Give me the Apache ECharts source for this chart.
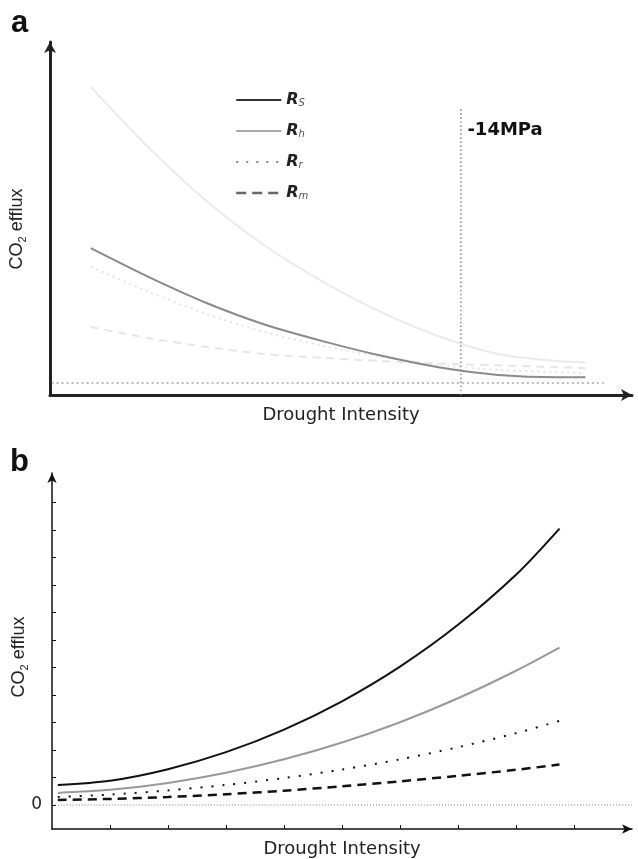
<!DOCTYPE html>
<html>
<head>
<meta charset="utf-8">
<script src="https://cdn.jsdelivr.net/npm/echarts@6/dist/echarts.min.js"></script>
<style>html,body{margin:0;padding:0;background:#fff}#c{width:638px;height:859px}</style>
</head>
<body>
<div id="c"></div>
<script>
// ---- Panel a data (drought intensity, arbitrary units 0-100) ----
const aX  = [7, 17, 27, 37, 47, 57, 67, 77, 87, 92];
const aRs = [87.3, 70.0, 54.8, 42.2, 32.0, 23.4, 16.5, 11.6, 9.6, 9.3];
const aRh = [41.6, 33.4, 26.0, 19.9, 15.2, 11.1, 7.8, 5.7, 5.0, 5.0];
const aRr = [36.3, 29.2, 22.9, 17.8, 13.9, 10.8, 8.5, 7.1, 6.5, 6.2];
const aRm = [19.3, 16.1, 13.6, 11.6, 10.5, 9.6, 8.9, 8.4, 7.9, 7.6];
const aBaseX = [0.3, 95.4];
const aBaseY = [3.4, 3.4];
const aMarkX = [70.6, 70.6];
const aMarkY = [0, 81.3];
const aMarkLabel = '-14MPa';

// ---- Panel b data ----
const bX  = [0.1, 1, 2, 3, 4, 5, 6, 7, 8, 8.75];
const bRs = [0.73, 0.88, 1.30, 1.92, 2.74, 3.77, 5.03, 6.55, 8.37, 10.05];
const bRh = [0.44, 0.55, 0.80, 1.17, 1.66, 2.27, 3.01, 3.88, 4.88, 5.72];
const bRr = [0.29, 0.38, 0.53, 0.73, 0.98, 1.29, 1.66, 2.10, 2.61, 3.06];
const bRm = [0.18, 0.22, 0.29, 0.39, 0.52, 0.68, 0.86, 1.06, 1.28, 1.47];
const bZeroX = [0.05, 10.0];
const bZeroY = [0, 0];
const bYTicks = [0, 1, 2, 3, 4, 5, 6, 7, 8, 9, 10, 11];
const bXTicks = [1, 2, 3, 4, 5, 6, 7, 8, 9];
const bYLabels = [0];

const legendNames = ['Rs', 'Rh', 'Rr', 'Rm'];
const legendSubs  = ['S', 'h', 'r', 'm'];
const xName = 'Drought Intensity';
const yName = 'CO{s|2} efflux';

function zip(xs, ys) { return xs.map((x, i) => [x, ys[i]]); }

const chart = echarts.init(document.getElementById('c'), null, {renderer: 'canvas'});

const yNameStyle = (padRight) => ({
  fontFamily: 'Liberation Sans', fontSize: 18, color: '#222', lineHeight: 22,
  padding: [0, padRight, 0, 0],
  rich: { s: { fontFamily: 'Liberation Sans', fontSize: 11, color: '#222', lineHeight: 22, verticalAlign: 'bottom', padding: [8, 0, 0, 0] } }
});
const xNameStyle = { fontFamily: 'DejaVu Sans', fontSize: 18, color: '#222' };

function lineSeries(name, xi, data, color, width, type) {
  return {
    name: name, type: 'line', xAxisIndex: xi, yAxisIndex: xi,
    data: data, smooth: 0.3, symbol: 'none', silent: true,
    itemStyle: { color: color },
    lineStyle: { color: color, width: width, type: type || 'solid' }
  };
}

const legendStyles = {
  Rs: { color: '#333', width: 2, type: 'solid' },
  Rh: { color: '#aaa', width: 2, type: 'solid' },
  Rr: { color: '#888', width: 2, type: [2, 8] },
  Rm: { color: '#666', width: 2.5, type: [10, 6] }
};

const option = {
  animation: false,
  backgroundColor: '#fff',
  title: [
    { text: 'a', left: 11, top: 8, padding: 0, textStyle: { fontFamily: 'Liberation Sans', fontWeight: 'bold', fontSize: 31, color: '#111' } },
    { text: 'b', left: 10, top: 447, padding: 0, textStyle: { fontFamily: 'Liberation Sans', fontWeight: 'bold', fontSize: 31, color: '#111' } }
  ],
  legend: {
    orient: 'vertical', left: 235, top: 91, itemWidth: 45, itemHeight: 14, itemGap: 14,
    selectedMode: false, padding: 0,
    data: legendNames.map(n => ({
      name: n, lineStyle: legendStyles[n],
      itemStyle: { color: 'rgba(0,0,0,0)', opacity: 0, borderWidth: 0 }
    })),
    formatter: n => '{r|R}{s|' + legendSubs[legendNames.indexOf(n)] + '}',
    textStyle: {
      rich: {
        r: { fontFamily: 'DejaVu Sans', fontStyle: 'italic', fontWeight: 'bold', fontSize: 16, color: '#222', lineHeight: 16 },
        s: { fontFamily: 'DejaVu Sans', fontStyle: 'italic', fontSize: 10, color: '#555', lineHeight: 16, verticalAlign: 'bottom', padding: [7, 0, 0, 0] }
      }
    }
  },
  grid: [
    { left: 50, top: 42, width: 582, height: 353, containLabel: false, outerBoundsMode: 'none' },
    { left: 52, top: 473, width: 580, height: 356, containLabel: false, outerBoundsMode: 'none' }
  ],
  xAxis: [
    {
      gridIndex: 0, type: 'value', min: 0, max: 100,
      axisLine: { show: true, onZero: false, symbol: ['none', 'arrow'], symbolSize: [9, 11], lineStyle: { color: '#222', width: 3 } },
      axisTick: { show: false }, axisLabel: { show: false }, splitLine: { show: false },
      name: xName, nameLocation: 'middle', nameGap: 11, nameMoveOverlap: false, nameTextStyle: xNameStyle
    },
    {
      gridIndex: 1, type: 'value', min: 0, max: 10,
      axisLine: { show: true, onZero: false, symbol: ['none', 'arrow'], symbolSize: [7, 10], lineStyle: { color: '#111', width: 1.5 } },
      axisTick: { show: true, inside: true, length: 4, customValues: bXTicks, lineStyle: { color: '#111', width: 1 } },
      axisLabel: { show: false }, splitLine: { show: false },
      name: xName, nameLocation: 'middle', nameGap: 11, nameMoveOverlap: false, nameTextStyle: xNameStyle
    }
  ],
  yAxis: [
    {
      gridIndex: 0, type: 'value', min: 0, max: 100,
      axisLine: { show: true, onZero: false, symbol: ['none', 'arrow'], symbolSize: [9, 11], lineStyle: { color: '#222', width: 3 } },
      axisTick: { show: false }, axisLabel: { show: false }, splitLine: { show: false },
      name: yName, nameLocation: 'middle', nameRotate: 90, nameGap: 22, nameMoveOverlap: false, nameTextStyle: yNameStyle(21)
    },
    {
      gridIndex: 1, type: 'value', min: -0.873, max: 12.07,
      axisLine: { show: true, onZero: false, symbol: ['none', 'arrow'], symbolSize: [7, 10], lineStyle: { color: '#111', width: 1.5 } },
      axisTick: { show: true, inside: true, length: 4, customValues: bYTicks, lineStyle: { color: '#111', width: 1 } },
      axisLabel: { show: true, customValues: bYLabels, margin: 10, fontFamily: 'DejaVu Sans', fontSize: 17, color: '#222' },
      splitLine: { show: false },
      name: yName, nameLocation: 'middle', nameRotate: 90, nameGap: 22, nameMoveOverlap: false, nameTextStyle: yNameStyle(12)
    }
  ],
  series: [
    // panel a (faded)
    lineSeries('base_a', 0, zip(aBaseX, aBaseY), '#a8a8a8', 1.5, [2, 3]),
    lineSeries('Rm', 0, zip(aX, aRm), '#e6e6e6', 2, [8, 6]),
    lineSeries('Rr', 0, zip(aX, aRr), '#e4e4e4', 2, [2, 4]),
    lineSeries('Rs', 0, zip(aX, aRs), '#ebebeb', 2),
    lineSeries('Rh', 0, zip(aX, aRh), '#8a8a8a', 2),
    lineSeries('mark_a', 0, zip(aMarkX, aMarkY), '#888', 1.5, [1.5, 2.5]),
    {
      name: 'markLabel', type: 'scatter', xAxisIndex: 0, yAxisIndex: 0, silent: true,
      symbolSize: 1, itemStyle: { color: '#fff', opacity: 1 },
      data: [[aMarkX[1], aMarkY[1]]],
      label: { show: true, formatter: aMarkLabel, position: 'right', distance: 6, offset: [0, 22], opacity: 1,
               textBorderWidth: 0, fontFamily: 'DejaVu Sans', fontWeight: 'bold', fontSize: 18, color: '#111' }
    },
    // panel b
    lineSeries('zero_b', 1, zip(bZeroX, bZeroY), '#777', 1, [1, 2]),
    lineSeries('Rm', 1, zip(bX, bRm), '#111', 2.5, [9, 6]),
    lineSeries('Rr', 1, zip(bX, bRr), '#111', 2, [2, 9]),
    lineSeries('Rh', 1, zip(bX, bRh), '#999', 2),
    lineSeries('Rs', 1, zip(bX, bRs), '#111', 2)
  ]
};

chart.setOption(option);
</script>
</body>
</html>
